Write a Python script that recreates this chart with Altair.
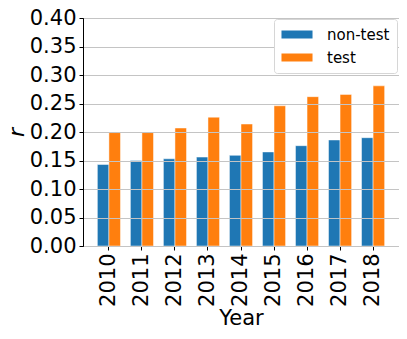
import altair as alt
import pandas as pd

years = ["2010", "2011", "2012", "2013", "2014", "2015", "2016", "2017", "2018"]
nontest = [0.143, 0.150, 0.153, 0.156, 0.159, 0.165, 0.176, 0.186, 0.190]
test = [0.199, 0.199, 0.207, 0.226, 0.214, 0.246, 0.262, 0.266, 0.281]
groups = ["non-test", "test"]
colors = ["#1f77b4", "#ff7f0e"]
yticks = [0.0, 0.05, 0.10, 0.15, 0.20, 0.25, 0.30, 0.35, 0.40]

rows = []
for i, y in enumerate(years):
    rows.append({"Year": y, "group": groups[0], "r": nontest[i]})
    rows.append({"Year": y, "group": groups[1], "r": test[i]})
df = pd.DataFrame(rows)

FONT = "DejaVu Sans"

chart = alt.Chart(df).mark_bar(
    stroke="white", strokeWidth=0.8, strokeOpacity=0.6
).encode(
    x=alt.X("Year:N", sort=years,
            scale=alt.Scale(paddingInner=0.3, paddingOuter=0.435),
            axis=alt.Axis(title="Year", labelAngle=-90, labelFontSize=21,
                          titleFontSize=21, titleFontWeight="normal",
                          labelFont=FONT, titleFont=FONT,
                          tickSize=4, labelPadding=3, titlePadding=1,
                          domainColor="black", tickColor="black",
                          labelColor="black", titleColor="black", grid=False)),
    xOffset=alt.XOffset("group:N", sort=groups,
                        scale=alt.Scale(paddingInner=0, paddingOuter=0)),
    y=alt.Y("r:Q", scale=alt.Scale(domain=[0, 0.4], nice=False),
            axis=alt.Axis(title="r", values=yticks, format=".2f",
                          labelFontSize=21, titleFontSize=22,
                          titleFontStyle="italic", titleFontWeight="normal",
                          labelFont=FONT, titleFont=FONT,
                          tickSize=4, labelPadding=3, titlePadding=1,
                          domainColor="black", tickColor="black",
                          labelColor="black", titleColor="black",
                          grid=True, gridColor="#c4c4c4", gridWidth=1.2,
                          zindex=1)),
    color=alt.Color("group:N", sort=groups,
                    scale=alt.Scale(domain=groups, range=colors),
                    legend=alt.Legend(
                        title=None, orient="none", legendX=191, legendY=1,
                        symbolType="M-1.94,-0.5L1.94,-0.5L1.94,0.5L-1.94,0.5Z",
                        symbolSize=256, symbolStrokeWidth=0, symbolOffset=7.5,
                        labelFontSize=15, labelFont=FONT, labelColor="black",
                        labelOffset=22, padding=7.5, rowPadding=7,
                        fillColor="white", strokeColor="#d6d6d6",
                        cornerRadius=3, zindex=2)),
).properties(
    width=316, height=228,
    autosize=alt.AutoSizeParams(type="none"),
    padding={"left": 75, "top": 10, "right": 0, "bottom": 85},
).configure_view(
    stroke="black", strokeWidth=1
)

chart.save("out.html", embed_options={"renderer": "svg", "actions": False})
